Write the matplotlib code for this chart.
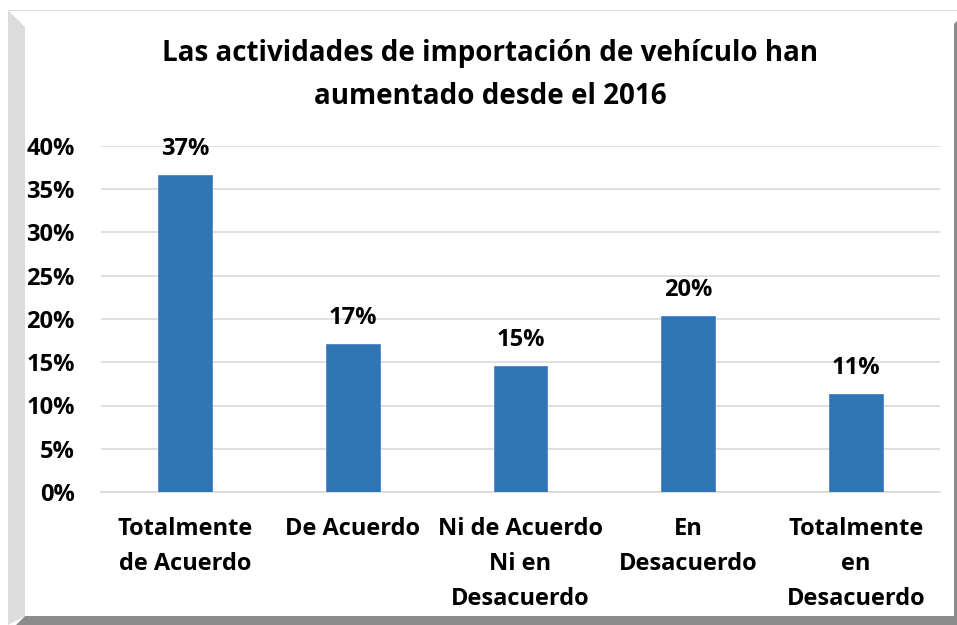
import matplotlib
matplotlib.use("Agg")
import matplotlib.pyplot as plt
from matplotlib.patches import Polygon
from matplotlib.ticker import FuncFormatter, MultipleLocator

categories = ["Totalmente\nde Acuerdo", "De Acuerdo", "Ni de Acuerdo\nNi en\nDesacuerdo",
              "En\nDesacuerdo", "Totalmente\nen\nDesacuerdo"]
values = [0.367, 0.171, 0.146, 0.204, 0.113]
labels = ["37%", "17%", "15%", "20%", "11%"]
title = "Las actividades de importación de vehículo han\naumentado desde el 2016"

W, H = 957, 625
FONT = "Open Sans"
fig = plt.figure(figsize=(W / 100, H / 100), dpi=100)
fig.patch.set_facecolor("white")

def px(pts):
    return [(x / W, 1 - y / H) for x, y in pts]

fig.patches.append(Polygon(px([(8, 10), (957, 10), (957, 11), (8, 11)]), closed=True,
                           transform=fig.transFigure, facecolor="#dddddd", edgecolor="none"))
fig.patches.append(Polygon(px([(8, 10), (25, 27), (25, 616), (8, 625)]), closed=True,
                           transform=fig.transFigure, facecolor="#dcdcdc", edgecolor="none"))
fig.patches.append(Polygon(px([(954, 24), (957, 21), (957, 625), (16, 625), (25, 616), (954, 616)]),
                           closed=True, transform=fig.transFigure, facecolor="#8c8c8c", edgecolor="none"))

ax = fig.add_axes([101 / W, 1 - 492 / H, (940 - 101) / W, (492 - 146) / H])
x = list(range(len(categories)))
bars = ax.bar(x, values, width=0.32, color="#2E75B6", edgecolor="#4a86cf", linewidth=0.6, zorder=3)
ax.set_xlim(-0.5, len(categories) - 0.5)
ax.set_ylim(0, 0.40)
ax.yaxis.set_major_locator(MultipleLocator(0.05))
ax.yaxis.set_major_formatter(FuncFormatter(lambda v, p: f"{v*100:.0f}%"))
ax.grid(axis="y", color="#d9d9d9", linewidth=1.2, zorder=0)
for s in ["top", "right", "left"]:
    ax.spines[s].set_visible(False)
ax.spines["bottom"].set_color("#d9d9d9")
ax.spines["bottom"].set_linewidth(1.2)
ax.tick_params(axis="both", length=0)
ax.tick_params(axis="y", pad=19)
ax.tick_params(axis="x", pad=18)
ax.set_xticks(x)
ax.set_xticklabels(categories, fontsize=17, fontweight="bold", family=FONT, linespacing=1.6, va="top")
for t in ax.get_yticklabels():
    t.set_fontsize(17)
    t.set_fontweight("bold")
    t.set_family(FONT)

for b, lab in zip(bars, labels):
    ax.annotate(lab, (b.get_x() + b.get_width() / 2, b.get_height()), xytext=(0, 10),
                textcoords="offset points", ha="center", va="bottom",
                fontsize=17, fontweight="bold", family=FONT)

fig.text(490 / W, 1 - 75 / H, title, ha="center", va="center", fontsize=20,
         fontweight="bold", family=FONT, linespacing=1.62)

fig.savefig("out.png", dpi=100)
